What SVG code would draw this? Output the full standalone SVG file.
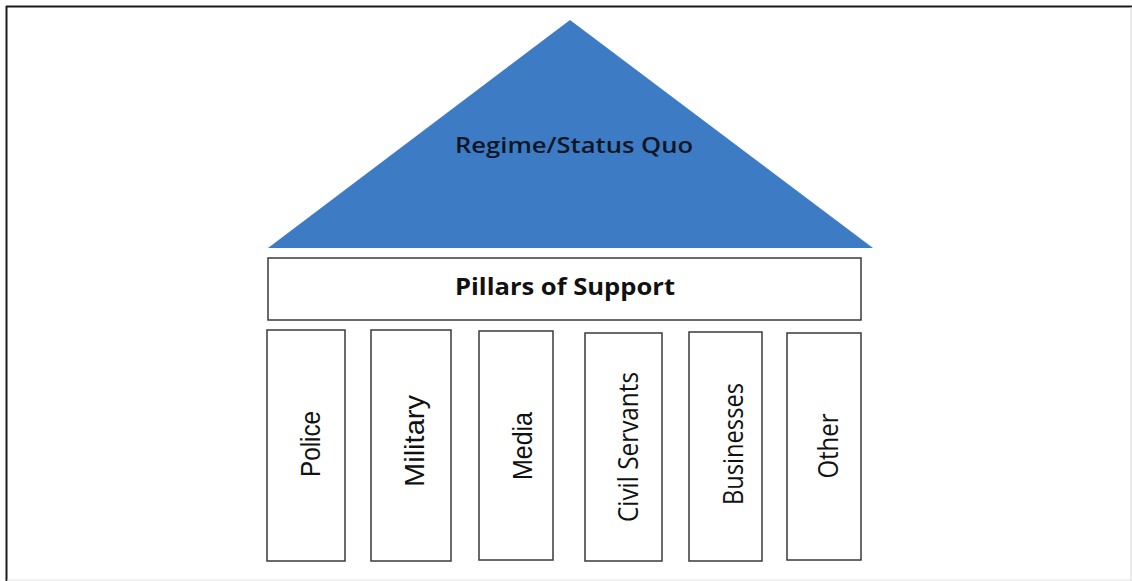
<svg xmlns="http://www.w3.org/2000/svg" width="1132" height="581" viewBox="0 0 1132 581">
<style>
.box{fill:#ffffff;stroke:#3a3a3a;stroke-width:1.5}
.lbl{font-family:"Liberation Sans",Arial,sans-serif;font-size:28px;fill:#111;text-anchor:middle}
.lblc{font-family:"Open Sans","Liberation Sans",sans-serif;font-size:27px;fill:#111;text-anchor:middle}
</style>
<rect x="0" y="0" width="1132" height="581" fill="#ffffff"/>
<g id="frame">
<line x1="6.5" y1="6" x2="6.5" y2="581" stroke="#1a1a1a" stroke-width="2"/>
<line x1="6" y1="6.5" x2="1132" y2="6.5" stroke="#1a1a1a" stroke-width="2"/>
<line x1="1131" y1="7" x2="1131" y2="581" stroke="#d8d8d8" stroke-width="1"/>
<line x1="7" y1="580" x2="1131" y2="580" stroke="#e0e0e0" stroke-width="1"/>
</g>
<g id="regime">
<polygon points="570,20 268,248 873,248" fill="#3d7cc4"/>
<text x="574" y="153" font-family="'Open Sans','Liberation Sans',sans-serif" font-size="22" font-weight="600" fill="#0e1626" text-anchor="middle" textLength="238" lengthAdjust="spacingAndGlyphs">Regime/Status Quo</text>
</g>
<g id="pillars-of-support">
<rect class="box" x="268" y="258" width="593" height="62"/>
<text x="565" y="295" font-family="'Open Sans','Liberation Sans',sans-serif" font-size="24" font-weight="bold" fill="#111" text-anchor="middle" textLength="220" lengthAdjust="spacingAndGlyphs">Pillars of Support</text>
</g>
<g id="police">
<rect class="box" x="267" y="330" width="78" height="231"/>
<text class="lbl" transform="translate(320,444) rotate(-90)" textLength="66" lengthAdjust="spacingAndGlyphs">Police</text>
</g>
<g id="military">
<rect class="box" x="371" y="330" width="80" height="231"/>
<text class="lbl" transform="translate(424,441) rotate(-90)" textLength="92" lengthAdjust="spacingAndGlyphs">Military</text>
</g>
<g id="media">
<rect class="box" x="479" y="331" width="74" height="229"/>
<text class="lbl" transform="translate(532,446) rotate(-90)" textLength="68" lengthAdjust="spacingAndGlyphs">Media</text>
</g>
<g id="civil-servants">
<rect class="box" x="585" y="333" width="77" height="228"/>
<text class="lblc" transform="translate(638,447) rotate(-90)" textLength="150" lengthAdjust="spacingAndGlyphs">Civil Servants</text>
</g>
<g id="businesses">
<rect class="box" x="689" y="332" width="73" height="229"/>
<text class="lblc" transform="translate(743,444) rotate(-90)" textLength="122" lengthAdjust="spacingAndGlyphs">Businesses</text>
</g>
<g id="other">
<rect class="box" x="787" y="333" width="74" height="227"/>
<text class="lblc" transform="translate(838,446) rotate(-90)" textLength="65" lengthAdjust="spacingAndGlyphs">Other</text>
</g>
<g id="connectors"></g>
</svg>
